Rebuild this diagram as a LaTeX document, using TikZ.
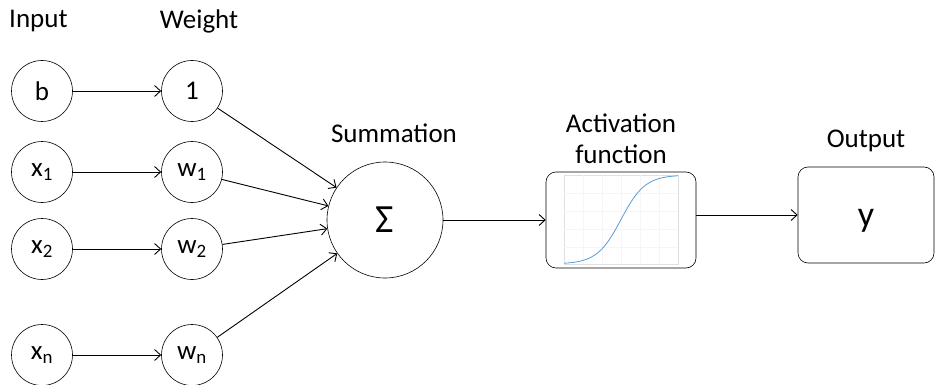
\documentclass[tikz,border=0pt]{standalone}
\usepackage{fontspec}
\setmainfont{Carlito}
\usetikzlibrary{arrows.meta}
\begin{document}
\begin{tikzpicture}[x=1pt,y=-1pt,
  every node/.style={font=\fontsize{27}{31}\selectfont},
  neuron/.style={draw,circle,minimum size=61pt,inner sep=0pt,line width=0.6pt},
  lbl/.style={inner sep=0pt},
  conn/.style={line width=0.9pt,-{Straight Barb[length=6pt,width=11pt]}},
  rbox/.style={draw,rounded corners=10pt,line width=0.6pt,inner sep=0pt}]
\useasboundingbox (0,0) rectangle (936,385);
% labels
\node[lbl,anchor=west] (linput) at (9,21) {Input};
\node[lbl] (lweight) at (199,21) {Weight};
\node[lbl] (lsum) at (394,133) {Summation};
\node[lbl,align=center] (lact) at (621,139) {Activation\\function};
\node[lbl] (lout) at (866,141) {Output};
% inputs
\node[neuron] (b) at (42,91) {b};
\node[neuron] (x1) at (42,172) {x\textsubscript{1}};
\node[neuron] (x2) at (42,249) {x\textsubscript{2}};
\node[neuron] (xn) at (42,355) {x\textsubscript{n}};
% weights
\node[neuron] (w0) at (192,91) {1};
\node[neuron] (w1) at (192,172) {w\textsubscript{1}};
\node[neuron] (w2) at (192,249) {w\textsubscript{2}};
\node[neuron] (wn) at (192,355) {w\textsubscript{n}};
% sum
\node[neuron,minimum size=116pt] (sum) at (385,220) {\fontsize{40}{44}\selectfont Σ};
% activation
\node[rbox,minimum width=150pt,minimum height=96pt] (act) at (621,220) {};
\draw[black!12,line width=0.5pt] (564,175) rectangle (678,264);
\foreach \gx in {583,602,621,640,659} \draw[black!4,line width=0.3pt] (\gx,175) -- (\gx,264);
\foreach \gy in {193,211,229,247} \draw[black!4,line width=0.3pt] (564,\gy) -- (678,\gy);
\draw[color={rgb,255:red,91;green,155;blue,213},line width=0.8pt,domain=564:678,samples=80]
  plot (\x,{264-89/(1+exp(-(\x-621)/12))});
% output
\node[rbox,minimum width=136pt,minimum height=96pt] (out) at (866,215) {};
\node[lbl] (outy) at (866,221) {\fontsize{36}{40}\selectfont y};
% connectors
\draw[conn] (b) -- (w0);
\draw[conn] (x1) -- (w1);
\draw[conn] (x2) -- (w2);
\draw[conn] (xn) -- (wn);
\draw[conn] (w0) -- (sum);
\draw[conn] (w1) -- (sum);
\draw[conn] (w2) -- (sum);
\draw[conn] (wn) -- (sum);
\draw[conn] (sum) -- (act);
\draw[conn] (act.east |- out) -- (out);
\end{tikzpicture}
\end{document}
